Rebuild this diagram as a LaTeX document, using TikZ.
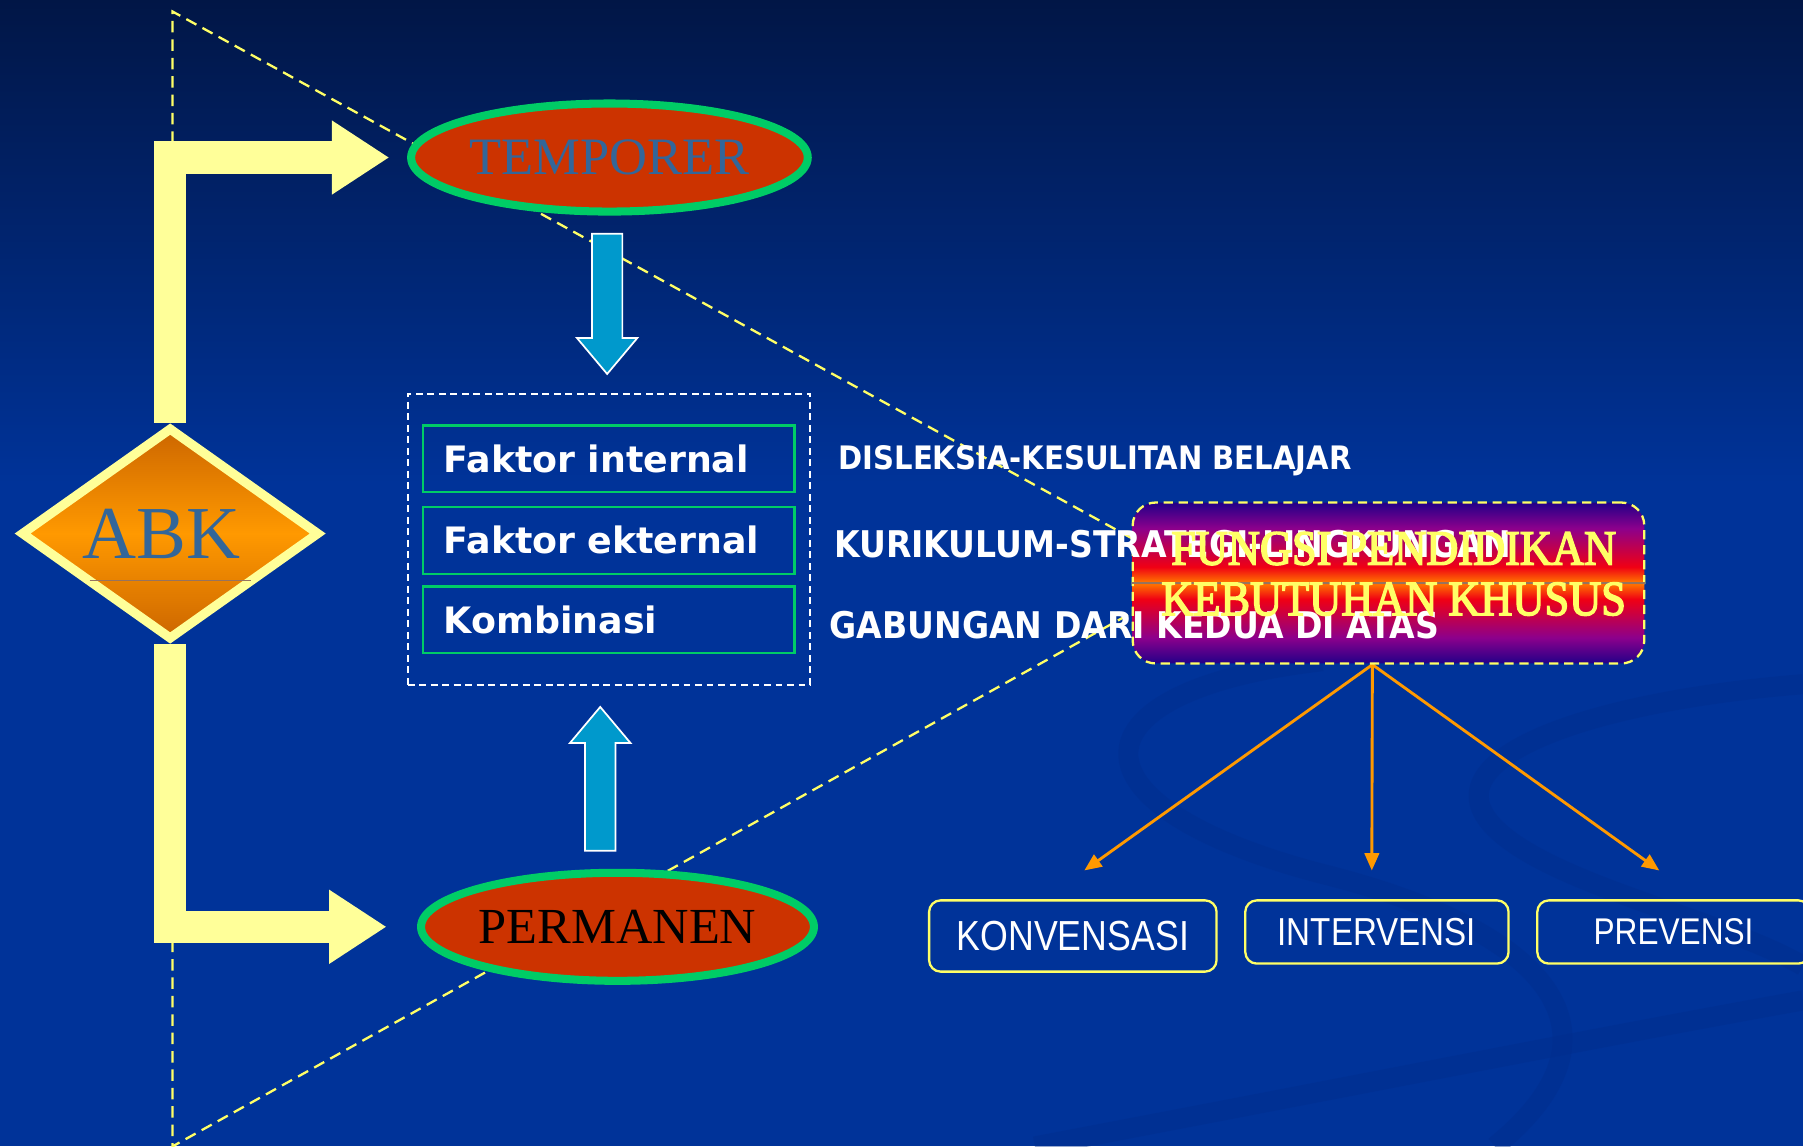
\documentclass[tikz,border=0pt]{standalone}
\usepackage{xcolor}
\usepackage{tikz}
\usepackage{fontspec}
\setmainfont{Liberation Serif}
\newfontfamily\judulfont{Liberation Serif}[FakeStretch=0.9, FakeBold=3]
\newfontfamily\faktorfont{DejaVu Sans}
\newfontfamily\labelfont{DejaVu Sans}[FakeStretch=0.9]
\newfontfamily\kotakfont{Liberation Sans}[FakeStretch=0.85]
\usetikzlibrary{calc}
\usetikzlibrary{fit}
\usetikzlibrary{shapes.geometric, shapes.arrows, arrows.meta, positioning, backgrounds}

\definecolor{bgtop}{RGB}{1,22,70}
\definecolor{bgmain}{RGB}{0,51,153}
\definecolor{swirlc}{RGB}{0,45,140}
\definecolor{kuningtua}{RGB}{255,255,153}
\definecolor{kuning}{RGB}{255,255,102}
\definecolor{merah}{RGB}{204,51,0}
\definecolor{hijau}{RGB}{0,204,102}
\definecolor{birutext}{RGB}{51,102,153}
\definecolor{biruarrow}{RGB}{0,153,204}
\definecolor{oranye}{RGB}{255,153,0}
\definecolor{oranyetua}{RGB}{204,102,0}
\definecolor{navyp}{RGB}{34,0,136}
\definecolor{ungu}{RGB}{140,0,140}
\definecolor{merahterang}{RGB}{240,0,20}
\definecolor{oranyeterang}{RGB}{255,110,0}
\definecolor{seamc}{RGB}{150,115,95}

\pgfdeclareverticalshading{fungsishade}{100bp}{color(0bp)=(navyp); color(25bp)=(navyp); color(33bp)=(ungu); color(45bp)=(merahterang); color(49.5bp)=(oranyeterang); color(50.5bp)=(oranyeterang); color(55bp)=(merahterang); color(67bp)=(ungu); color(75bp)=(navyp); color(100bp)=(navyp)}

\begin{document}
\begin{tikzpicture}[x=0.02cm,y=-0.02cm,
    abk node/.style={diamond,draw=kuningtua,line width=0.16cm,top color=oranyetua,bottom color=oranyetua,middle color=oranye,
                     minimum width=5.2cm,minimum height=3.7cm,aspect=1.4,inner sep=0pt,text=birutext,font=\fontsize{37}{40}\selectfont},
    elips node/.style={ellipse,draw=hijau,line width=0.14cm,fill=merah,inner sep=0pt,minimum height=1.88cm},
    faktor node/.style={draw=hijau,line width=0.04cm,minimum height=1.16cm,text width=5.74cm,inner xsep=0.36cm,align=left,
                        text=white,font=\faktorfont\bfseries\fontsize{18}{20}\selectfont},
    ket node/.style={anchor=base west,inner sep=0pt,text=white,font=\labelfont\bfseries\fontsize{16}{18}\selectfont},
    fungsi node/.style={shade,shading=fungsishade,draw=kuning,line width=0.04cm,dash pattern=on 0.16cm off 0.1cm,
                        rounded corners=0.4cm,minimum width=8.9cm,minimum height=2.8cm},
    judul node/.style={align=center,text=kuning,inner sep=0pt,font=\judulfont\fontsize{24.4}{25}\selectfont},
    pilihan node/.style={draw=kuning,line width=0.04cm,rounded corners=0.2cm,text=white,minimum height=1.1cm},
    kerucut/.style={draw=kuning,line width=0.04cm,dash pattern=on 0.2cm off 0.12cm},
    panah besar/.style={draw=kuningtua,line width=0.56cm,-{Triangle[length=1cm,width=1.22cm]}},
    panah biru/.style={single arrow,draw=white,line width=0.03cm,fill=biruarrow,minimum height=2.44cm,minimum width=1.02cm,
                       single arrow head extend=0.26cm,single arrow tip angle=80,inner sep=0.25cm},
    panah oranye/.style={draw=oranye,line width=0.05cm,-{Triangle[length=0.3cm,width=0.25cm,fill=oranye]}},
    seam/.style={draw=seamc,line width=0.02cm},
    swirl/.style={draw=swirlc,line width=0.35cm,opacity=0.4}]

  \useasboundingbox (0,0) rectangle (1568,997);

  \node[abk node] (abk) at (148,464) {\hspace*{-0.3cm}ABK};
  \draw[seam] ($(abk.center)+(-70,41)$) -- ($(abk.center)+(70,41)$);

  \node[elips node,minimum width=6.9cm,text=birutext,font=\fontsize{26}{28}\selectfont] (temp) at (530,137) {TEMPORER};
  \node[elips node,minimum width=6.74cm,text=black,font=\fontsize{25}{27}\selectfont] (perm) at (537,806) {PERMANEN};

  % faktor
  \node[faktor node] (f1) at (529.5,399) {Faktor internal};
  \node[faktor node] (f2) [below=0.22cm of f1] {Faktor ekternal};
  \node[faktor node] (f3) [below=0.18cm of f2] {Kombinasi};
  \node (fakbox) [draw=white,line width=0.03cm,dash pattern=on 0.12cm off 0.08cm,fit=(f1) (f3),inner xsep=0.25cm,inner ysep=0.53cm] {};

  \node[panah biru,rotate=-90,anchor=tail] (turun) at ($(temp.south)+(-2,15)$) {};
  \node[panah biru,rotate=90,anchor=tail,minimum height=2.5cm] (naik) at ($(perm.north)+(-15,-15)$) {};

  \node[fungsi node] (fungsi) at (1207.5,507) {};
  \draw[seam] (fungsi.west) -- (fungsi.east);

  \node[ket node] (k1) at (729,408) {DISLEKSIA-KESULITAN BELAJAR};
  \node[ket node,font=\labelfont\bfseries\fontsize{18.2}{20}\selectfont] (k2) at (725,485) {KURIKULUM-STRATEGI-LINGKUNGAN};
  \node[ket node,font=\labelfont\bfseries\fontsize{18.2}{20}\selectfont] (k3) at (721,555) {GABUNGAN DARI KEDUA DI ATAS};

  \node[judul node] (judul) at (1212,499) {FUNGSI PENDIDIKAN\\KEBUTUHAN KHUSUS};

  % pilihan
  \node[pilihan node,minimum width=5cm,minimum height=1.24cm,font=\kotakfont\fontsize{20.8}{22}\selectfont] (konv) at (933,814) {KONVENSASI};
  \node[pilihan node,minimum width=4.58cm,font=\kotakfont\fontsize{19.3}{21}\selectfont] (intv) [right=0.46cm of konv.north east,anchor=north west] {INTERVENSI};
  \node[pilihan node,minimum width=4.74cm,font=\kotakfont\fontsize{18.4}{20}\selectfont] (prev) [right=0.46cm of intv.north east,anchor=north west] {PREVENSI};

  \coordinate (cabang) at ($(fungsi.south)+(-14,0)$);
  \coordinate (u1) at (943,757);
  \coordinate (u2) at (1193,757);
  \coordinate (u3) at (1443,757);

  \begin{scope}[on background layer]
    \shade[top color=bgtop,bottom color=bgmain] (0,0) rectangle (1568,420);
    \fill[bgmain] (0,419) rectangle (1568,997);
    \draw[swirl] (1150,575) .. controls (930,600) and (920,700) .. (1150,760) .. controls (1350,810) and (1420,900) .. (1300,997);
    \draw[swirl] (1568,595) .. controls (1380,610) and (1240,660) .. (1300,720) .. controls (1350,770) and (1500,800) .. (1568,840);
    \draw[swirl] (900,997) .. controls (1200,940) and (1400,900) .. (1568,870);

    \coordinate (puncak) at (150,10);
    \coordinate (dasar) at (150,997);
    \draw[kerucut] ($(fungsi.west)+(0,-39)$) -- (puncak) -- (dasar) -- ($(fungsi.west)+(0,26)$);

    \draw[panah besar,shorten >=0.31cm] (abk.north) |- (temp.west);
    \draw[panah besar,shorten >=0.53cm] (abk.south) |- (perm.west);

    \draw[panah oranye] (cabang) -- (u1);
    \draw[panah oranye] (cabang) -- (u2);
    \draw[panah oranye] (cabang) -- (u3);
  \end{scope}
\end{tikzpicture}
\end{document}
